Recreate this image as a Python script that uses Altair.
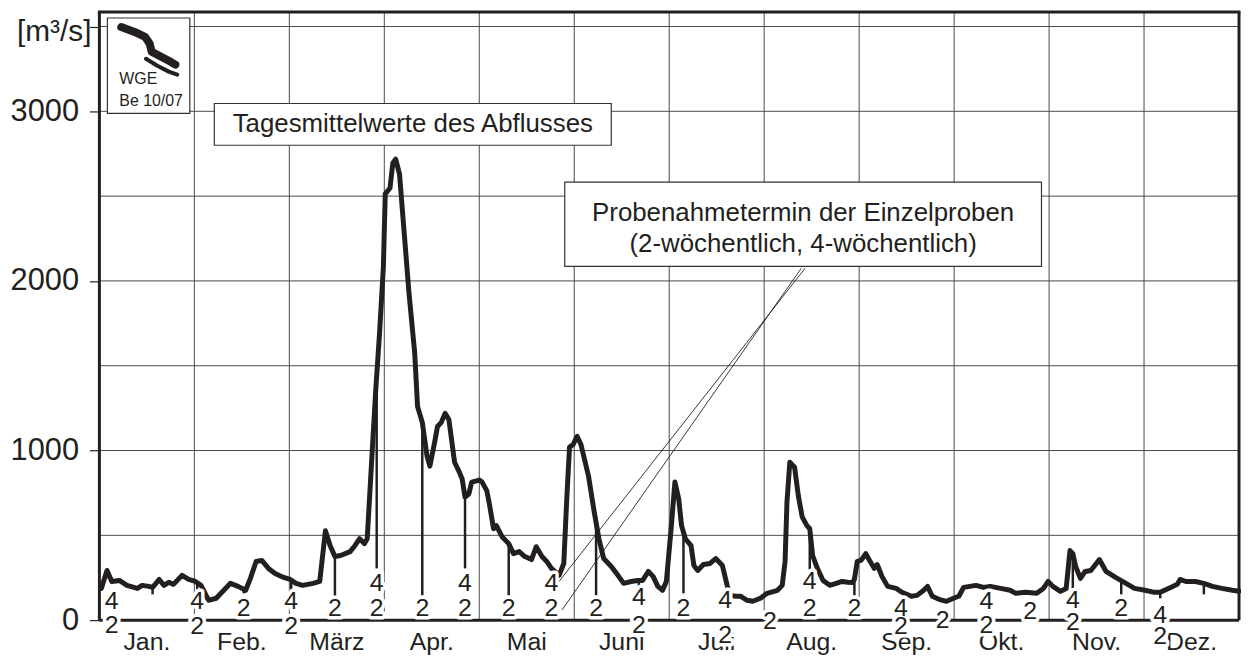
import altair as alt
import pandas as pd

FONT = "Liberation Sans"
INK = "#231f20"
GRID = "#4a4a4a"

months = ["Jan.", "Feb.", "März", "Apr.", "Mai", "Juni", "Juli", "Aug.", "Sep.", "Okt.", "Nov.", "Dez."]
month_mid = [0.5, 1.5, 2.5, 3.5, 4.5, 5.5, 6.5, 7.5, 8.5, 9.5, 10.5, 11.5]
month_edges = [1, 2, 3, 4, 5, 6, 7, 8, 9, 10, 11]
grid_q = [500, 1000, 1500, 2000, 2500, 3000, 3500]
y_ticks = [0, 1000, 2000, 3000, 3500]

# daily mean discharge, position in months (0 = 1 Jan, 12 = 31 Dec)
curve_pos = [0.02, 0.08, 0.13, 0.21, 0.29, 0.40, 0.45, 0.52, 0.56, 0.63, 0.68, 0.73, 0.78, 0.87, 0.94,
             1.01, 1.07, 1.15, 1.23, 1.31, 1.38, 1.46, 1.54, 1.59, 1.65, 1.71, 1.78, 1.85, 1.94,
             2.01, 2.07, 2.14, 2.25, 2.32, 2.38, 2.43, 2.48, 2.54, 2.64, 2.69, 2.74, 2.79, 2.82, 2.86,
             2.91, 2.95, 2.99, 3.01, 3.06, 3.09, 3.12, 3.16, 3.21, 3.26, 3.32, 3.35, 3.40, 3.45, 3.48,
             3.53, 3.56, 3.60, 3.64, 3.68, 3.74, 3.79, 3.82, 3.85, 3.89, 3.92, 4.00, 4.03, 4.08, 4.11,
             4.15, 4.18, 4.24, 4.31, 4.36, 4.42, 4.48, 4.55, 4.60, 4.66, 4.71, 4.76, 4.84, 4.89, 4.92,
             4.95, 4.99, 5.03, 5.07, 5.15, 5.21, 5.26, 5.31, 5.39, 5.46, 5.52, 5.60, 5.67, 5.72, 5.78,
             5.83, 5.88, 5.93, 5.97, 6.02, 6.06, 6.10, 6.13, 6.17, 6.23, 6.26, 6.30, 6.36, 6.43, 6.49,
             6.56, 6.61, 6.64, 6.70, 6.75, 6.82, 6.88, 6.96, 7.03, 7.14, 7.19, 7.22, 7.24, 7.27, 7.32,
             7.36, 7.40, 7.45, 7.48, 7.51, 7.56, 7.62, 7.69, 7.76, 7.82, 7.88, 7.93, 7.95, 7.98, 8.02,
             8.07, 8.11, 8.16, 8.19, 8.24, 8.30, 8.39, 8.45, 8.55, 8.61, 8.68, 8.72, 8.77, 8.84, 8.92,
             9.02, 9.05, 9.10, 9.23, 9.31, 9.38, 9.49, 9.59, 9.65, 9.75, 9.87, 9.94, 9.99, 10.04, 10.12,
             10.18, 10.22, 10.25, 10.28, 10.33, 10.38, 10.44, 10.53, 10.60, 10.70, 10.81, 10.90, 11.01,
             11.11, 11.17, 11.28, 11.35, 11.38, 11.44, 11.54, 11.63, 11.72, 11.82, 11.93, 12.00]
curve_q = [187, 293, 228, 234, 205, 187, 205, 199, 193, 240, 205, 223, 211, 264, 240,
           228, 205, 117, 129, 176, 217, 199, 176, 246, 346, 352, 305, 275, 252,
           240, 217, 205, 217, 228, 527, 439, 375, 381, 404, 439, 480, 451, 480, 873,
           1359, 1693, 2080, 2513, 2548, 2695, 2718, 2630, 2279, 1927, 1576, 1260, 1166, 967, 908,
           1049, 1142, 1166, 1219, 1183, 931, 873, 832, 726, 744, 814, 826, 814, 762, 674,
           539, 557, 492, 451, 392, 404, 375, 357, 433, 375, 346, 305, 264, 334, 700,
           1019, 1037, 1084, 1037, 850, 639, 480, 363, 316, 264, 217, 228, 234, 234, 287,
           258, 199, 176, 228, 539, 814, 715, 557, 480, 439, 322, 293, 328, 334, 363,
           322, 205, 146, 141, 141, 117, 111, 129, 158, 176, 205, 346, 697, 931, 902,
           732, 609, 557, 539, 381, 305, 234, 205, 217, 228, 223, 222, 240, 346, 352,
           392, 352, 305, 328, 258, 199, 187, 164, 141, 146, 176, 199, 141, 123, 111,
           135, 141, 193, 205, 193, 199, 187, 176, 158, 164, 158, 187, 228, 199, 170,
           187, 410, 392, 316, 246, 287, 293, 357, 287, 252, 217, 187, 176,
           164, 164, 193, 211, 240, 228, 228, 217, 199, 187, 176, 170]

# sampling dates (2-weekly) with label heights ("4" = also 4-weekly)
sample_pos = [0.13, 1.03, 1.52, 2.02, 2.48, 2.92, 3.40, 3.85, 4.31, 4.76, 5.23, 5.68, 6.15,
              6.59, 7.06, 7.48, 7.95, 8.44, 8.88, 9.34, 9.80, 10.25, 10.76, 11.17]
label2_q = [-29, -35, 70, -35, 70, 70, 70, 70, 70, 70, 70, -29, 70,
            -88, -6, 70, 70, -35, 0, -29, 53, -12, 70, -94]
label4_q = [111, 111, None, 111, None, 220, None, 220, None, 220, None, 135, None,
            117, None, 228, None, 70, None, 111, None, 117, None, 29]

# vertical sample lines: position, top (on curve), bottom
rule_pos = [0.56, 1.03, 1.52, 2.02, 2.48, 2.92, 3.40, 3.85, 4.31, 5.23, 5.68, 6.15, 7.48, 7.95,
            10.25, 10.76, 11.17, 11.63]
rule_top = [193, 228, 176, 240, 375, 1400, 1166, 726, 451, 600, 234, 500, 539, 230,
            392, 230, 164, 217]
rule_bottom = [152, 146, 158, 170, 140, 305, 146, 305, 146, 146, 199, 158, 293, 146,
               187, 152, 129, 152]

# annotation anchors (data units)
box1 = {"x": 1.21, "x2": 5.39, "y": 3046, "y2": 2800}
box1_text = [{"x": 3.30, "y": 2923, "t": "Tagesmittelwerte des Abflusses"}]
box2 = {"x": 4.90, "x2": 9.92, "y": 2583, "y2": 2086}
box2_text = [{"x": 7.41, "y": 2402, "t": "Probenahmetermin der Einzelproben"},
             {"x": 7.41, "y": 2220, "t": "(2-wöchentlich, 4-wöchentlich)"}]
leaders = [{"x": 4.84, "y": 228, "x2": 7.43, "y2": 2074},
           {"x": 4.87, "y": 59, "x2": 7.39, "y2": 2074}]
logo_box = {"x": 0.084, "x2": 0.952, "y": 3550, "y2": 2988}
logo_text = [{"x": 0.21, "y": 3193, "t": "WGE"}, {"x": 0.21, "y": 3058, "t": "Be 10/07"}]
logo_a_pos = [0.23, 0.37, 0.48, 0.53, 0.55, 0.63, 0.75, 0.80]
logo_a_q = [3497, 3468, 3439, 3398, 3351, 3327, 3292, 3275]
logo_b_pos = [0.49, 0.61, 0.73, 0.82]
logo_b_q = [3310, 3269, 3234, 3216]

X = alt.Scale(domain=[0, 12], nice=False, zero=False)
Y = alt.Scale(domain=[0, 3585], nice=False, zero=False)

Y_AXIS = alt.Axis(
    values=y_ticks, format="d", labelExpr="datum.value == 3500 ? '' : datum.label",
    tickSize=10, tickColor=INK, tickWidth=1.2, domain=False, grid=False,
    labelFont=FONT, labelFontSize=31, labelColor=INK, labelPadding=11, title=None,
    orient="left")


def xe(f="pos"):
    return alt.X(f"{f}:Q", scale=X, axis=None)


def ye(f="q"):
    return alt.Y(f"{f}:Q", scale=Y, axis=Y_AXIS)


curve_df = pd.DataFrame({"pos": curve_pos, "q": curve_q})

hgrid = alt.Chart(pd.DataFrame({"q": grid_q})).mark_rule(color=GRID, strokeWidth=1).encode(
    y=ye(), x=alt.value(0), x2=alt.value(1147))
vgrid = alt.Chart(pd.DataFrame({"pos": month_edges})).mark_rule(color=GRID, strokeWidth=1).encode(
    x=xe(), y=alt.value(0), y2=alt.value(612))

curve = alt.Chart(curve_df).mark_line(color=INK, strokeWidth=5, strokeJoin="round",
                                      strokeCap="round").encode(x=xe(), y=ye())

baseline = alt.Chart(pd.DataFrame({"q": [0]})).mark_rule(color=INK, strokeWidth=3).encode(
    y=ye(), x=alt.value(0), x2=alt.value(1147))

rules = alt.Chart(pd.DataFrame({"pos": rule_pos, "top": rule_top, "bot": rule_bottom})).mark_rule(
    color=INK, strokeWidth=2.5).encode(x=xe(), y=ye("top"), y2="bot:Q")

border_v = alt.Chart(pd.DataFrame({"pos": [0, 12]})).mark_rule(color=INK, strokeWidth=3).encode(
    x=xe(), y=alt.value(0), y2=alt.value(612))
border_top = alt.Chart(pd.DataFrame({"q": [3585]})).mark_rule(color=INK, strokeWidth=3).encode(
    y=ye(), x=alt.value(-1.5), x2=alt.value(1148.5))

lead = alt.Chart(pd.DataFrame(leaders)).mark_rule(color=INK, strokeWidth=0.9).encode(
    x=xe("x"), y=ye("y"), x2="x2:Q", y2="y2:Q")


def box(spec):
    return alt.Chart(pd.DataFrame([spec])).mark_rect(fill="white", stroke="#333333",
                                                      strokeWidth=1.2).encode(
        x=xe("x"), x2="x2:Q", y=ye("y"), y2="y2:Q")


def texts(rows, size, align="center"):
    return alt.Chart(pd.DataFrame(rows)).mark_text(font=FONT, fontSize=size, color=INK,
                                                    align=align, baseline="middle").encode(
        x=xe("x"), y=ye("y"), text="t:N")


b1 = box(box1)
b1t = texts(box1_text, 26)
b2 = box(box2)
b2t = texts(box2_text, 26)
lb = box(logo_box)
lt = texts(logo_text, 16, align="left")
logo_a = alt.Chart(pd.DataFrame({"pos": logo_a_pos, "q": logo_a_q})).mark_line(
    color=INK, strokeWidth=8, strokeCap="round", strokeJoin="round").encode(x=xe(), y=ye())
logo_b = alt.Chart(pd.DataFrame({"pos": logo_b_pos, "q": logo_b_q})).mark_line(
    color=INK, strokeWidth=4, strokeCap="round", strokeJoin="round").encode(x=xe(), y=ye())

month_lbl = alt.Chart(pd.DataFrame({"pos": month_mid, "t": months, "q": [-176] * 12})).mark_text(
    font=FONT, fontSize=25, color=INK, align="center", baseline="alphabetic").encode(
    x=xe(), y=ye(), text="t:N")

lab_rows = []
for p, q2, q4 in zip(sample_pos, label2_q, label4_q):
    lab_rows.append({"pos": p, "q": q2, "t": "2"})
    if q4 is not None:
        lab_rows.append({"pos": p, "q": q4, "t": "4"})
lab_df = pd.DataFrame(lab_rows)
halo = alt.Chart(lab_df).mark_text(font=FONT, fontSize=25, color="white", stroke="white",
                                   strokeWidth=7, strokeJoin="round", align="center",
                                   baseline="middle").encode(x=xe(), y=ye(), text="t:N")
labs = alt.Chart(lab_df).mark_text(font=FONT, fontSize=25, color=INK, align="center",
                                   baseline="middle").encode(x=xe(), y=ye(), text="t:N")

unit = alt.Chart(pd.DataFrame([{"x": -0.084, "y": 3415, "t": "[m³/s]"}])).mark_text(
    font=FONT, fontSize=30, color=INK, align="right", baseline="alphabetic").encode(
    x=xe("x"), y=ye("y"), text="t:N")

chart = alt.layer(
    hgrid, vgrid, curve, baseline, rules, border_v, border_top, lead,
    b1, b1t, b2, b2t, lb, lt, logo_a, logo_b, month_lbl, halo, labs, unit
).properties(
    width=1147, height=612,
    padding={"left": 92, "top": 2, "right": 2, "bottom": 36},
    autosize=alt.AutoSizeParams(type="none"),
    background="white",
).configure_view(stroke=None)

chart.save("out.html", embed_options={"renderer": "svg", "actions": False})
